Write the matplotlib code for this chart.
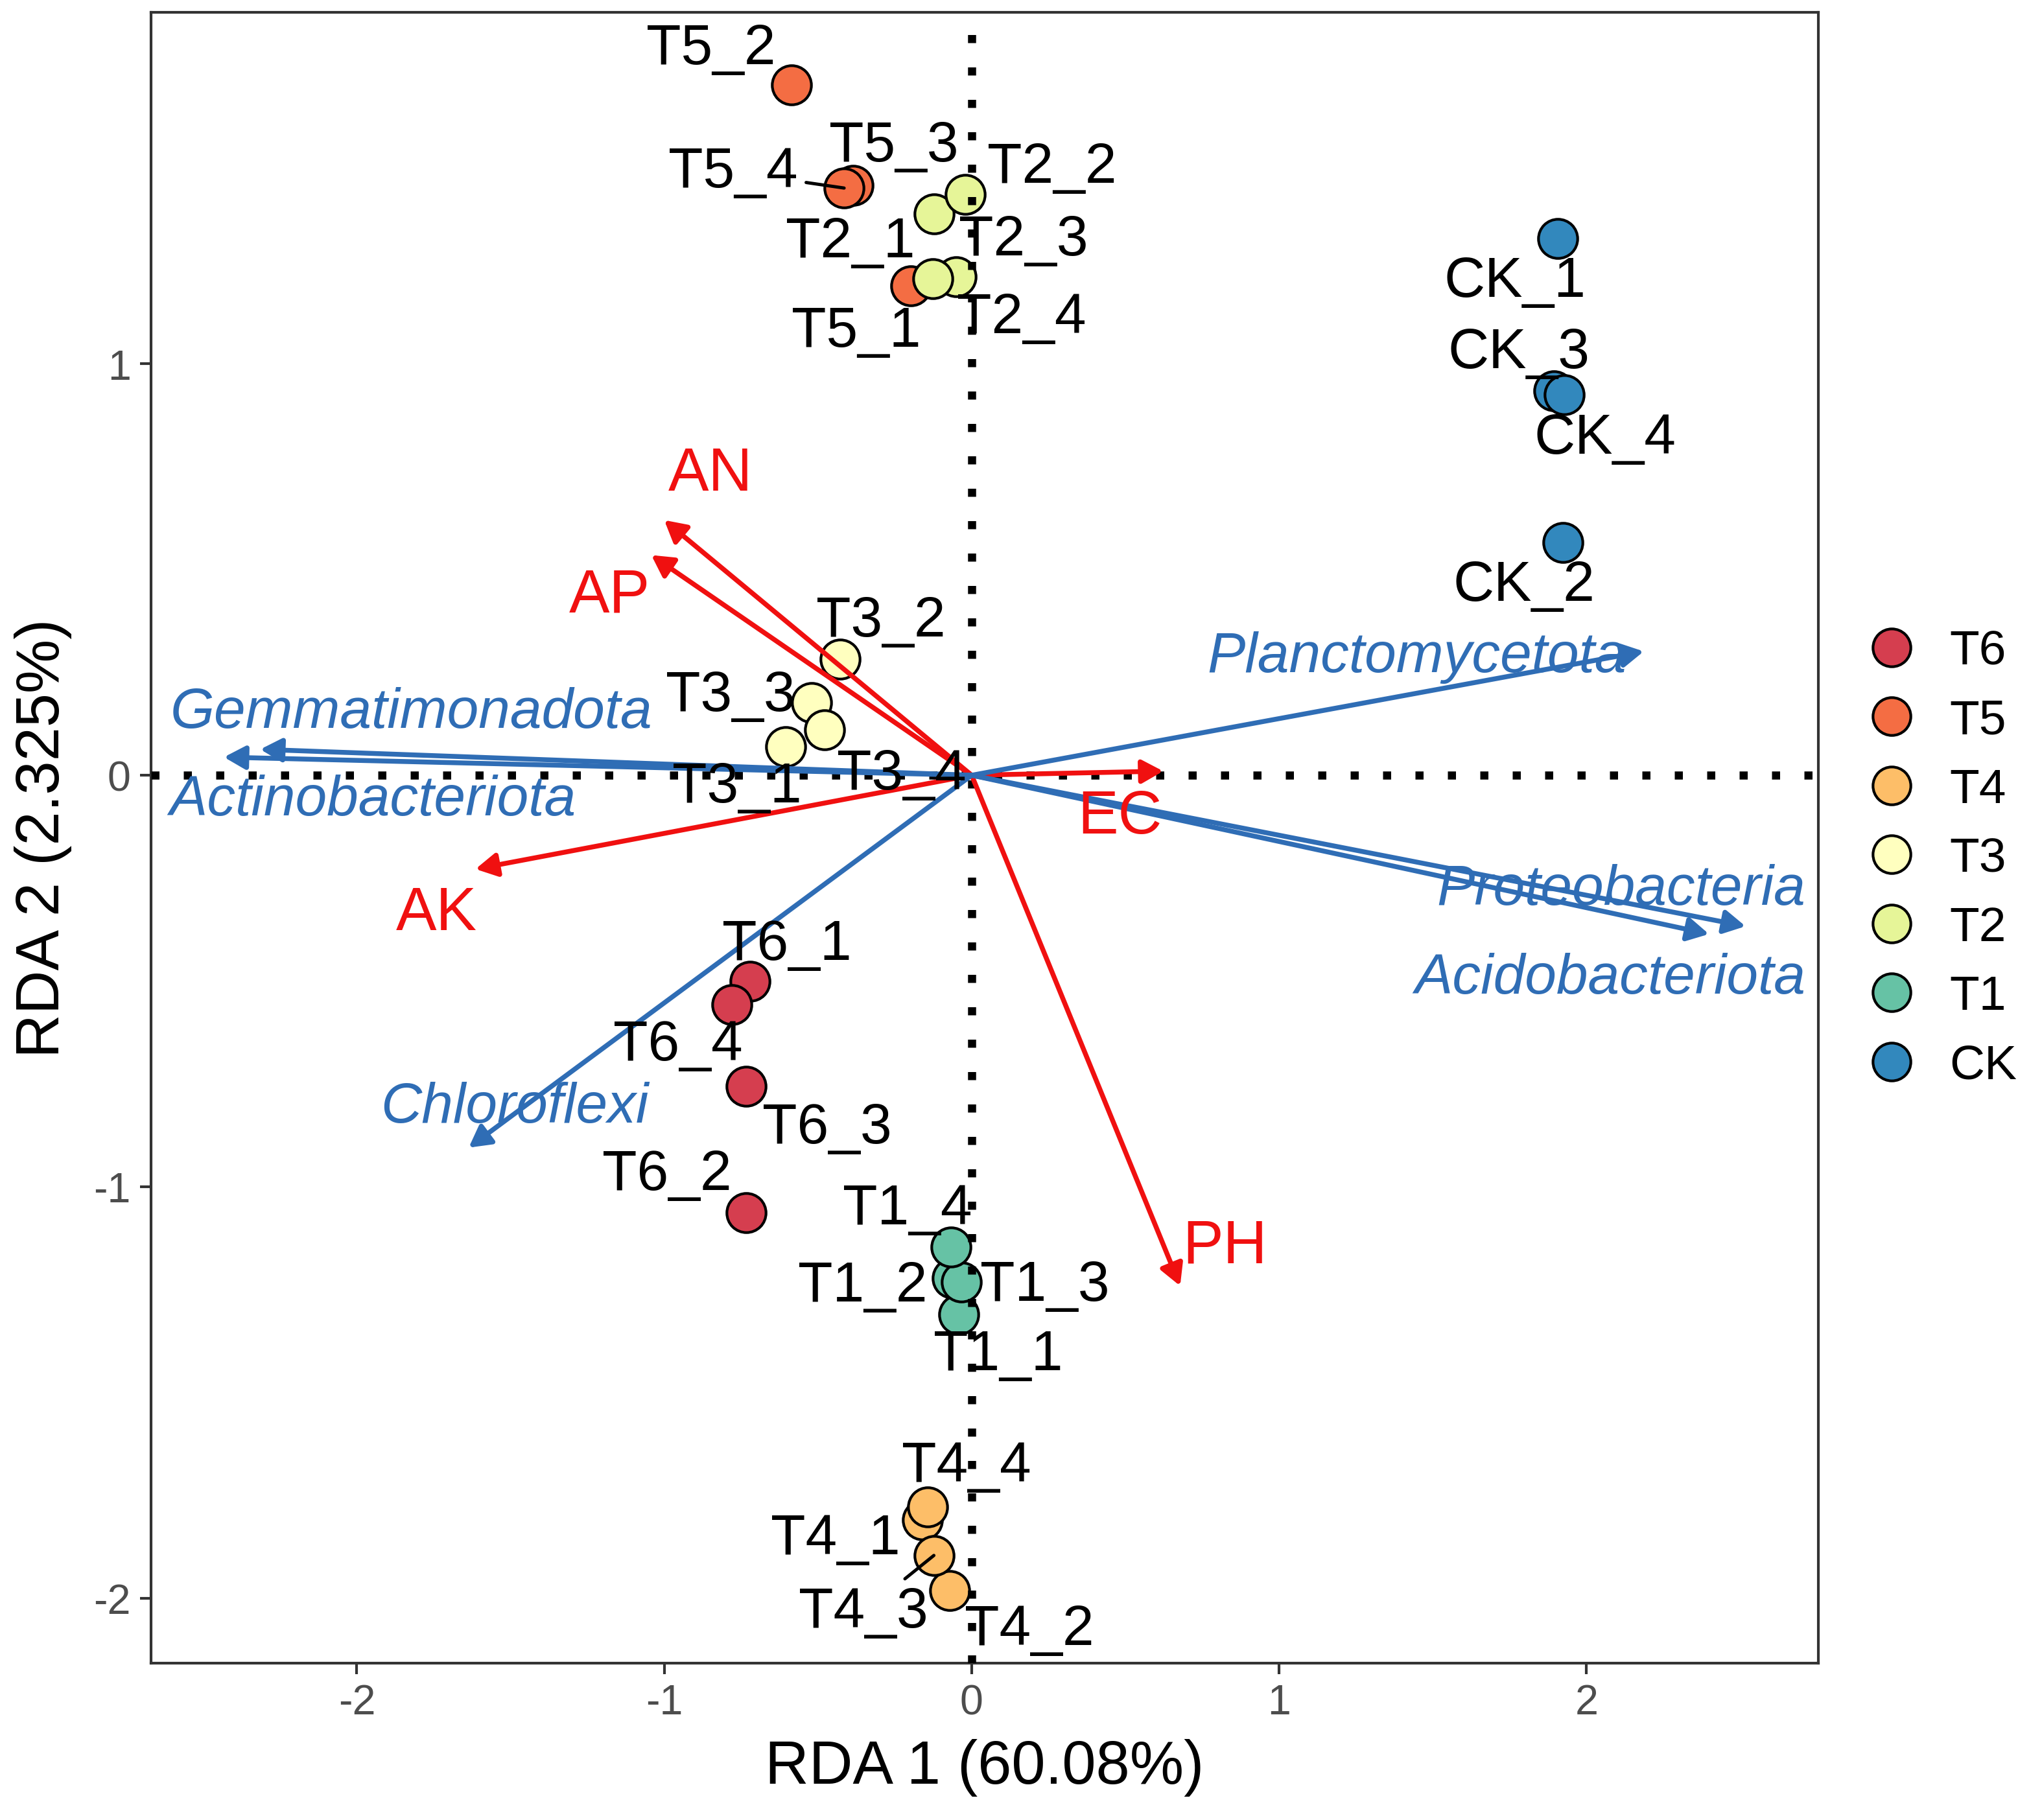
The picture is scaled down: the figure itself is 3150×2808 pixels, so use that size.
import matplotlib
matplotlib.use("Agg")
import matplotlib.pyplot as plt
from matplotlib.lines import Line2D

plt.rcParams['font.family'] = ['Liberation Sans', 'DejaVu Sans']
plt.rcParams['axes.unicode_minus'] = False

# Sample scores (RDA1, RDA2)
groups = ['T6', 'T5', 'T4', 'T3', 'T2', 'T1', 'CK']
group_colors = ['#D53E4F', '#F46D43', '#FDBE68', '#FFFFBF', '#E6F598', '#66C2A5', '#3288BD']

sample_names = ['T6_1', 'T6_2', 'T6_3', 'T6_4',
                'T5_1', 'T5_2', 'T5_3', 'T5_4',
                'T4_1', 'T4_2', 'T4_3', 'T4_4',
                'T3_1', 'T3_2', 'T3_3', 'T3_4',
                'T2_1', 'T2_2', 'T2_3', 'T2_4',
                'T1_1', 'T1_2', 'T1_3', 'T1_4',
                'CK_1', 'CK_2', 'CK_3', 'CK_4']
sample_x = [-0.720, -0.733, -0.733, -0.780,
            -0.199, -0.585, -0.386, -0.415,
            -0.161, -0.072, -0.123, -0.144,
            -0.606, -0.428, -0.521, -0.479,
            -0.123, -0.021, -0.051, -0.127,
            -0.042, -0.064, -0.034, -0.068,
            1.907, 1.924, 1.894, 1.928]
sample_y = [-0.500, -1.063, -0.756, -0.557,
            1.190, 1.677, 1.434, 1.427,
            -1.810, -1.981, -1.896, -1.778,
            0.070, 0.282, 0.177, 0.111,
            1.364, 1.411, 1.212, 1.206,
            -1.310, -1.222, -1.231, -1.146,
            1.304, 0.566, 0.934, 0.924]

# Environmental factors (red arrows)
env_names = ['AN', 'AP', 'AK', 'EC', 'PH']
env_x = [-1.000, -1.042, -1.614, 0.623, 0.678]
env_y = [0.620, 0.535, -0.228, 0.010, -1.241]

# Phyla (blue arrows)
phyla_names = ['Planctomycetota', 'Gemmatimonadota', 'Actinobacteriota',
               'Proteobacteria', 'Acidobacteriota', 'Chloroflexi']
phyla_x = [2.186, -2.314, -2.432, 2.517, 2.398, -1.636]
phyla_y = [0.301, 0.063, 0.044, -0.367, -0.386, -0.905]

# label offsets (points), as placed in the original figure
sample_lab_off = {
    'T5_2': (-30, 13.5), 'T5_4': (-41, 6), 'T5_3': (15, 14.5), 'T2_2': (32, 10),
    'T2_1': (-31, -10.5), 'T2_3': (25, 13.5), 'T2_4': (33, -14.5), 'T5_1': (-20, -17),
    'CK_1': (-16, -16), 'CK_3': (-13, 14), 'CK_4': (15, -16), 'CK_2': (-14.5, -16),
    'T3_2': (15, 14), 'T3_3': (-30, 2.5), 'T3_4': (28.5, -16.5), 'T3_1': (-18, -15),
    'T6_1': (13.5, 13.5), 'T6_4': (-20, -15), 'T6_3': (30, -15.5), 'T6_2': (-29.5, 14),
    'T1_4': (-16, 14), 'T1_2': (-33, -3), 'T1_3': (31, -1.5), 'T1_1': (14.5, -15),
    'T4_4': (14.5, 15), 'T4_1': (-32, -7), 'T4_3': (-26, -21), 'T4_2': (29.5, -14.5),
}
with_segment = ['T5_4', 'T4_3']
env_lab_off = {'AN': (17, 17), 'AP': (-15.5, -15), 'AK': (-14.5, -16.5),
               'EC': (-16, -17), 'PH': (16.5, 14.5)}
phyla_lab_off = {'Planctomycetota': (-84, -2), 'Gemmatimonadota': (56, 13.5),
                 'Actinobacteriota': (55, -16), 'Proteobacteria': (-46, 13.5),
                 'Acidobacteriota': (-36.5, -16.5), 'Chloroflexi': (17, 15)}

RED = '#F01010'
BLUE = '#2F6DB5'

fig = plt.figure(figsize=(10.5, 9.363), dpi=300)
ax = fig.add_axes([0.074, 0.0861, 0.8165, 0.9068])

color_of = dict(zip(groups, group_colors))
for name, x, y in zip(sample_names, sample_x, sample_y):
    ax.scatter(x, y, s=210, color=color_of[name.split('_')[0]],
               edgecolors='black', linewidths=1.0, zorder=2)

# origin lines
ax.axhline(0, color='black', lw=3, linestyle=(0, (1, 3)), dash_capstyle='butt', zorder=3)
ax.axvline(0, color='black', lw=3, linestyle=(0, (1, 3)), dash_capstyle='butt', zorder=3)

arrow_style = '-|>,head_length=0.6,head_width=0.33'
for name, x, y in zip(env_names, env_x, env_y):
    ax.annotate('', xy=(x, y), xytext=(0, 0),
                arrowprops=dict(arrowstyle=arrow_style, color=RED, lw=1.8,
                                mutation_scale=11, shrinkA=0, shrinkB=0), zorder=4)
    ax.annotate(name, xy=(x, y), xytext=env_lab_off[name], textcoords='offset points',
                ha='center', va='center', fontsize=22.5, color=RED, zorder=5)

for name, x, y in zip(phyla_names, phyla_x, phyla_y):
    ax.annotate('', xy=(x, y), xytext=(0, 0),
                arrowprops=dict(arrowstyle=arrow_style, color=BLUE, lw=1.8,
                                mutation_scale=11, shrinkA=0, shrinkB=0), zorder=4)
    ax.annotate(name, xy=(x, y), xytext=phyla_lab_off[name], textcoords='offset points',
                ha='center', va='center', fontsize=21, color=BLUE, style='italic', zorder=5)

for name, x, y in zip(sample_names, sample_x, sample_y):
    props = None
    if name in with_segment:
        props = dict(arrowstyle='-', color='black', lw=1.2, shrinkA=1, shrinkB=0)
    ax.annotate(name, xy=(x, y), xytext=sample_lab_off[name], textcoords='offset points',
                ha='center', va='center', fontsize=21, color='black',
                arrowprops=props, zorder=5)

ax.set_xlim(-2.669, 2.754)
ax.set_ylim(-2.158, 1.854)
ax.set_xticks([-2, -1, 0, 1, 2])
ax.set_yticks([-2, -1, 0, 1])
ax.tick_params(labelsize=15.5, labelcolor='#4D4D4D', color='#333333', length=4, width=1)
for s in ax.spines.values():
    s.set_color('#333333')
    s.set_linewidth(1.0)

ax.set_xlabel('RDA 1 (60.08%)', fontsize=22.5, labelpad=6)
ax.set_ylabel('RDA 2 (2.325%)', fontsize=22.5, labelpad=8)

handles = [Line2D([], [], marker='o', linestyle='none', markersize=14,
                  markerfacecolor=c, markeredgecolor='black', markeredgewidth=1.0)
           for c in group_colors]
fig.legend(handles, groups, loc='center left', bbox_to_anchor=(0.9, 0.528),
           frameon=False, fontsize=18, labelspacing=0.5, handletextpad=0.6,
           borderpad=0, handlelength=1.2)

fig.savefig('out.png', dpi=300, facecolor='white')
